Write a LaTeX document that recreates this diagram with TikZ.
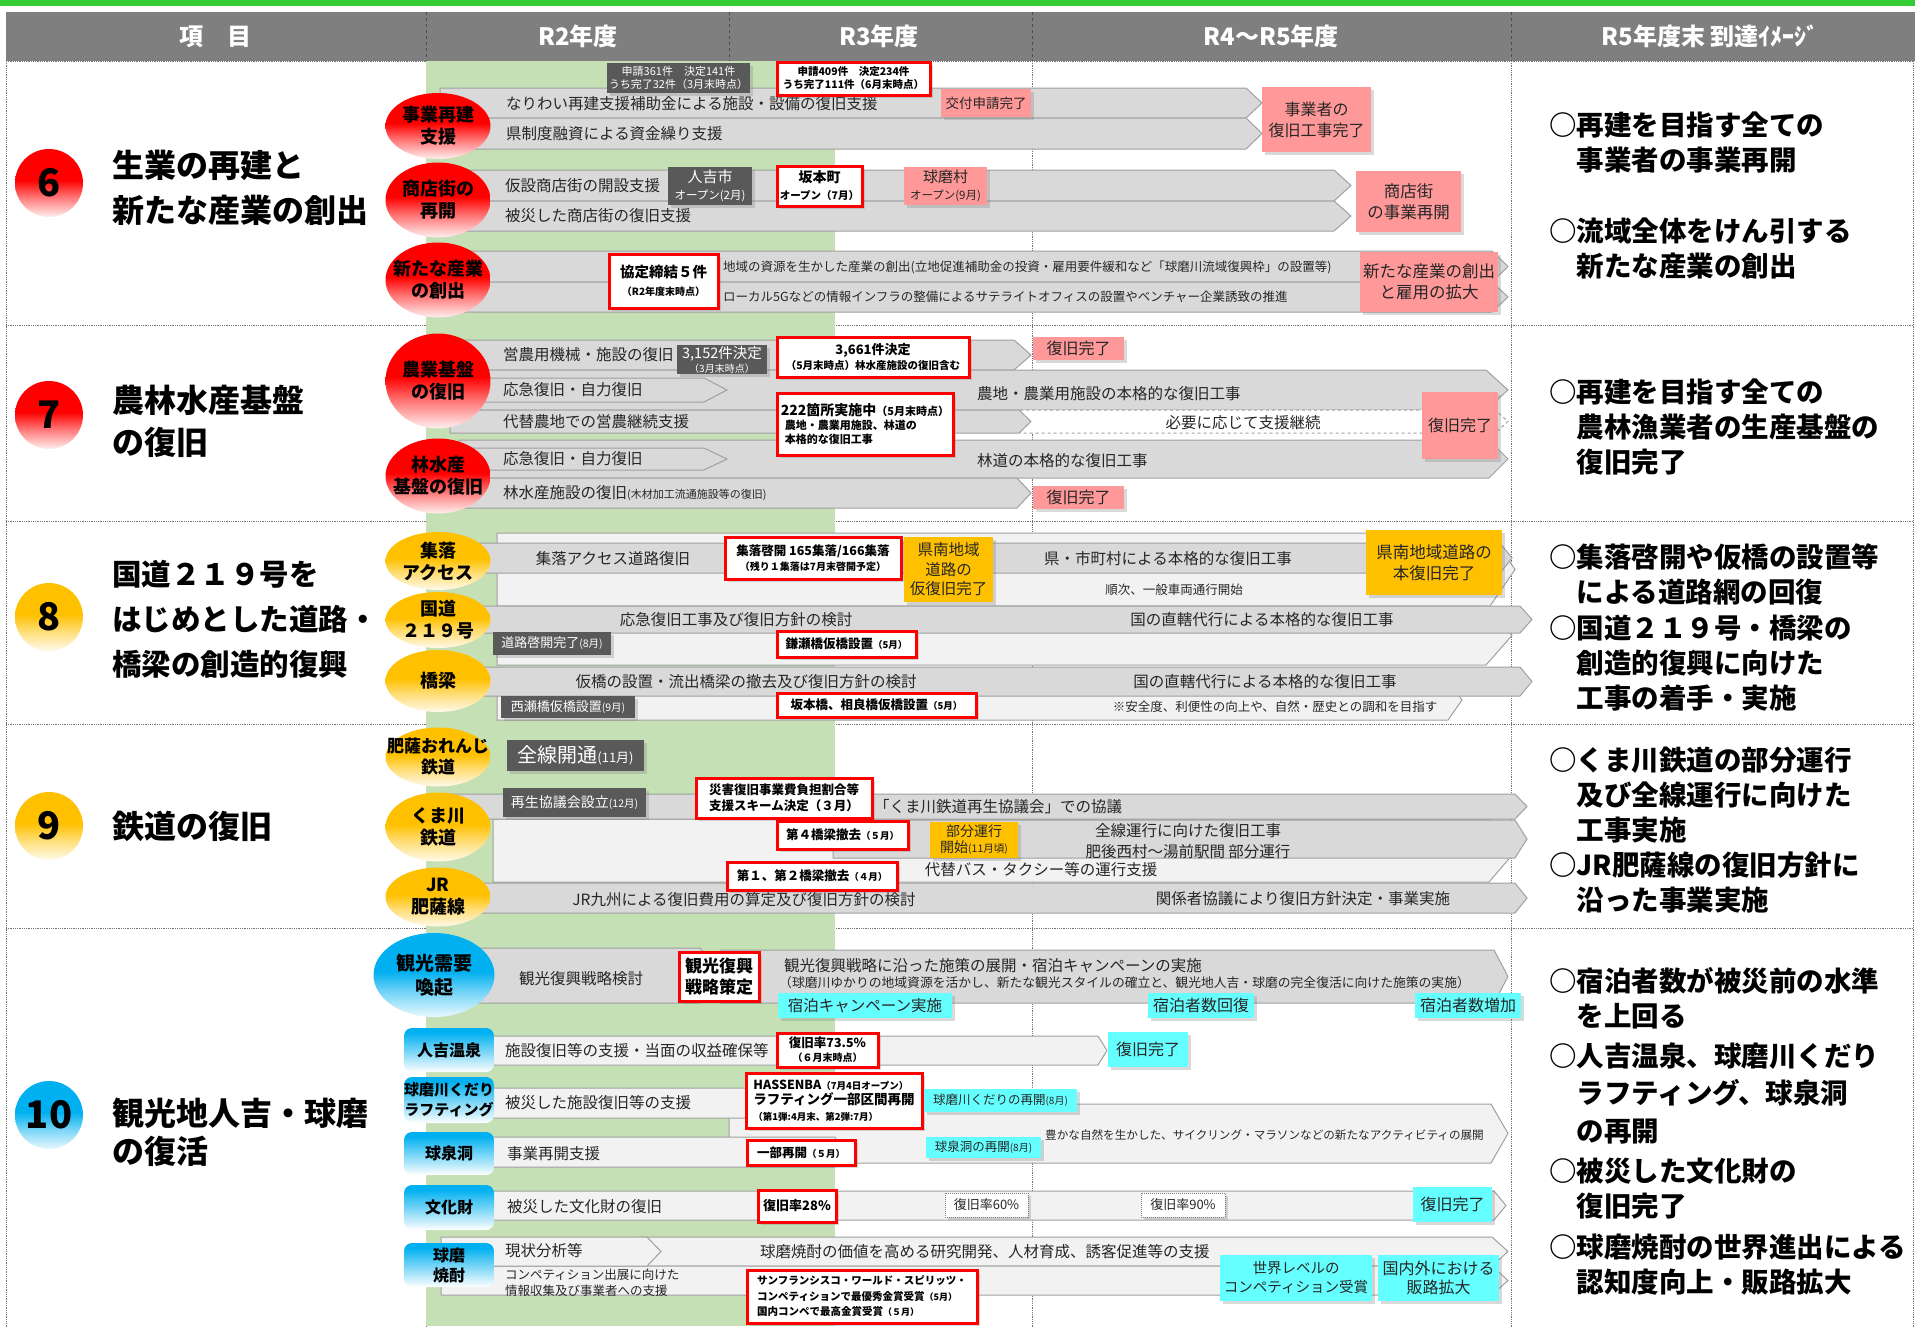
\documentclass[tikz,border=0pt]{standalone}
\usepackage{fontspec}
\setmainfont{Noto Sans CJK JP}
\usepackage{tikz}
\usetikzlibrary{positioning,shapes.geometric,shadows}

\definecolor{topgreen}{HTML}{33CC33}
\definecolor{headgray}{HTML}{7F7F7F}
\definecolor{colgreen}{HTML}{C5E0B4}
\definecolor{bargray}{HTML}{D9D9D9}
\definecolor{barlight}{HTML}{F2F2F2}
\definecolor{barline}{HTML}{A0A0A0}
\definecolor{boxdark}{HTML}{595959}
\definecolor{pinkfill}{HTML}{FF9999}
\definecolor{yelfill}{HTML}{FFC000}
\definecolor{cyanfill}{HTML}{66FFFF}
\definecolor{bluefill}{HTML}{00B0F0}
\definecolor{txtgray}{HTML}{262626}

\pgfdeclareverticalshading{redball}{100bp}{color(0bp)=(red!6!white); color(25bp)=(red!6!white); color(40bp)=(red!55!white); color(52bp)=(red); color(100bp)=(red)}
\pgfdeclareverticalshading{yelball}{100bp}{color(0bp)=(yelfill!8!white); color(25bp)=(yelfill!8!white); color(40bp)=(yelfill!55!white); color(52bp)=(yelfill); color(100bp)=(yelfill)}
\pgfdeclareverticalshading{blueball}{100bp}{color(0bp)=(bluefill!8!white); color(25bp)=(bluefill!8!white); color(40bp)=(bluefill!55!white); color(52bp)=(bluefill); color(100bp)=(bluefill)}
\pgfdeclareverticalshading{bluegrad}{100bp}{color(0bp)=(white); color(25bp)=(white); color(70bp)=(bluefill); color(100bp)=(bluefill)}

\newcommand{\fsz}[2]{\fontsize{#1}{#2}\selectfont}
% bar with arrow end: [style] x-start, y-top, x-body-end, y-bottom, x-tip
\newcommand{\chevbar}[6][graybar]{%
  \draw[#1] (#2,#3) -- (#4,#3) -- (#6,{(#3+#5)/2}) -- (#4,#5) -- (#2,#5) -- cycle;}

\tikzset{
  graybar/.style={fill=bargray, draw=barline, line width=1pt},
  lightbar/.style={fill=barlight, draw=barline, line width=1pt},
  dashbar/.style={fill=white, draw=barline, line width=1pt, dashed},
  gridline/.style={draw=black!55, line width=0.8pt, densely dotted},
  headsep/.style={draw=black!70, line width=0.8pt, dashed},
  headtxt/.style={text=white, inner sep=0pt, font=\bfseries\fsz{24}{28}},
  bartxt/.style={anchor=west, inner sep=0pt, text=txtgray, font=\fsz{15.5}{18}},
  midtxt/.style={inner sep=0pt, text=txtgray, font=\fsz{15.5}{18}},
  smalltxt/.style={inner sep=0pt, text=txtgray, font=\fsz{12.5}{15}},
  boxbase/.style={inner sep=1pt, align=center, drop shadow={shadow xshift=3pt, shadow yshift=-3pt, opacity=0.3}},
  darkbox/.style={boxbase, fill=boxdark, text=white},
  redbox/.style={boxbase, fill=white, draw=red, line width=3pt, font=\bfseries\fsz{12.5}{15}},
  pinkbox/.style={boxbase, fill=pinkfill, text=txtgray, font=\fsz{16}{20}},
  yelbox/.style={boxbase, fill=yelfill, text=txtgray, font=\fsz{16}{20}},
  cyanbox/.style={boxbase, fill=cyanfill, text=txtgray, font=\fsz{16}{19}},
  dotbox/.style={boxbase, fill=white, draw=gray, densely dotted, line width=1pt, text=txtgray, font=\fsz{13}{15}},
  ovalbox/.style={ellipse, inner sep=0pt, minimum width=105},
  redoval/.style={ovalbox, shade, shading=redball},
  yeloval/.style={ovalbox, shade, shading=yelball},
  blueoval/.style={ovalbox, shade, shading=blueball},
  ovaltxt/.style={inner sep=0pt, align=center, font=\bfseries\fsz{18}{22}},
  bluebox/.style={rounded corners=8pt, shade, shading=bluegrad, minimum width=90, inner sep=0pt, align=center, font=\bfseries\fsz{16}{20}},
  numball/.style={circle, minimum size=68, inner sep=0pt, shade, font=\bfseries\fsz{38}{40}},
  sectitle/.style={anchor=west, inner sep=0pt, align=left, font=\bfseries\fsz{32}{45}},
  goaltxt/.style={anchor=west, inner sep=0pt, align=left, font=\bfseries\fsz{27.5}{35}}
}

\begin{document}
\begin{tikzpicture}[x=1pt, y=-1pt]
\useasboundingbox (0,0) rectangle (1915,1328);

% header
\fill[topgreen] (0,0) rectangle (1915,6);
\fill[headgray] (6,12) rectangle (1915,61);
\foreach \cx in {426,729,1032,1511} \draw[headsep] (\cx,12) -- (\cx,61);
\node[headtxt] (h0) at (215,36.5) {項　目};
\node[headtxt] (h1) at (578,36.5) {R2年度};
\node[headtxt] (h2) at (879,36.5) {R3年度};
\node[headtxt] (h3) at (1271,36.5) {R4〜R5年度};
\node[headtxt] (h4) at (1710,36.5) {R5年度末 到達ｲﾒｰｼﾞ};

% grid and R2 column
\foreach \gy in {61,325,521,724,928} \draw[gridline] (6,\gy) -- (1913,\gy);
\foreach \gx in {6,426,1032,1511,1913} \draw[gridline] (\gx,61) -- (\gx,1328);
\fill[colgreen] (426,61) rectangle (835,1326);

% 6 生業の再建
\node[numball, shading=redball] (n6) at (49,183) {6};
\node[sectitle] (t6) at (112,187.5) {生業の再建と\\新たな産業の創出};
\chevbar{440}{88}{1246}{118}{1262}
\chevbar{440}{118}{1246}{149}{1262}
\chevbar{440}{170}{1334}{201}{1351}
\chevbar{440}{201}{1334}{231}{1351}
\chevbar{440}{251}{1492}{282}{1508}
\chevbar{440}{282}{1492}{312}{1508}
\node[bartxt] (r6a) at (506,104) {なりわい再建支援補助金による施設・設備の復旧支援};
\node[bartxt] (r6b) at (506,134) {県制度融資による資金繰り支援};
\node[bartxt] (r6c) at (505,186) {仮設商店街の開設支援};
\node[bartxt] (r6d) at (505,216) {被災した商店街の復旧支援};
\node[bartxt, font=\fsz{12.5}{15}] (r6e) at (723,267) {地域の資源を生かした産業の創出(立地促進補助金の投資・雇用要件緩和など「球磨川流域復興枠」の設置等)};
\node[bartxt, font=\fsz{12.5}{15}] (r6f) at (723,297) {ローカル5Gなどの情報インフラの整備によるサテライトオフィスの設置やベンチャー企業誘致の推進};
\node[darkbox, minimum width=143, minimum height=30, font=\fsz{11}{13}] (d6a) at (678.5,78) {申請361件　決定141件\\うち完了32件（3月末時点）};
\node[redbox, minimum width=153, minimum height=33, font=\bfseries\fsz{10.5}{13}] (k6a) at (853.5,78.5) {申請409件　決定234件\\うち完了111件（6月末時点）};
\node[pinkbox, minimum width=90, minimum height=28, font=\fsz{13.5}{16}] (p6a) at (986,103) {交付申請完了};
\node[pinkbox, minimum width=109, minimum height=65, font=\fsz{16}{21}] (p6b) at (1316.5,119.5) {事業者の\\復旧工事完了};
\node[darkbox, minimum width=84, minimum height=38, font=\fsz{15}{17}] (d6b) at (710,186) {人吉市\\{\fsz{11.5}{14}オープン(2月)}};
\node[redbox, minimum width=85, minimum height=40, font=\bfseries\fsz{14}{17}] (k6b) at (819.5,186) {坂本町\\{\fsz{10.5}{13}オープン（7月）}};
\node[pinkbox, minimum width=83, minimum height=38, font=\fsz{15}{17}] (p6c) at (945.5,186) {球磨村\\{\fsz{11.5}{14}オープン(9月)}};
\node[pinkbox, minimum width=105, minimum height=61, font=\fsz{16.5}{21}] (p6d) at (1408.5,201.5) {商店街\\の事業再開};
\node[redbox, minimum width=109, minimum height=54, font=\bfseries\fsz{14.5}{18}] (k6c) at (663.5,281) {協定締結５件\\{\fsz{10}{12}（R2年度末時点）}};
\node[pinkbox, minimum width=138, minimum height=60, font=\fsz{16.5}{21}] (p6e) at (1429,282) {新たな産業の創出\\と雇用の拡大};
\node[redoval, minimum height=66] (c6a) at (438,126) {};
\node[ovaltxt] (c6at) at (c6a) {事業再建\\支援};
\node[redoval, minimum height=75] (c6b) at (438,200) {};
\node[ovaltxt] (c6bt) at (c6b) {商店街の\\再開};
\node[redoval, minimum height=75] (c6c) at (438,280) {};
\node[ovaltxt] (c6ct) at (c6c) {新たな産業\\の創出};
\node[goaltxt] (g6a) at (1549,143) {○再建を目指す全ての\\　事業者の事業再開};
\node[goaltxt] (g6b) at (1549,248) {○流域全体をけん引する\\　新たな産業の創出};

% 7 農林水産基盤
\node[numball, shading=redball] (n7) at (49,415) {7};
\node[sectitle, font=\bfseries\fsz{32}{42}] (t7) at (112,421) {農林水産基盤\\の復旧};
\chevbar{440}{340}{1014}{370}{1031}
\chevbar{470}{370}{1486}{410}{1508}
\chevbar{470}{378}{704}{402}{727}
\chevbar[dashbar]{1020}{410}{1495}{433}{1508}
\chevbar{450}{410}{1019}{433}{1031}
\chevbar{459}{440}{1489}{478}{1508}
\chevbar{470}{448}{704}{470}{727}
\chevbar{459}{478}{1017}{508}{1031}
\node[bartxt] (r7a) at (503,355) {営農用機械・施設の復旧};
\node[bartxt] (r7b) at (503,390) {応急復旧・自力復旧};
\node[bartxt] (r7c) at (977,394) {農地・農業用施設の本格的な復旧工事};
\node[bartxt] (r7d) at (503,422) {代替農地での営農継続支援};
\node[midtxt] (r7e) at (1243,423) {必要に応じて支援継続};
\node[bartxt] (r7f) at (503,459) {応急復旧・自力復旧};
\node[bartxt] (r7g) at (977,461) {林道の本格的な復旧工事};
\node[bartxt] (r7h) at (503,493) {林水産施設の復旧{\fsz{11}{13}(木材加工流通施設等の復旧)}};
\node[darkbox, minimum width=90, minimum height=27, font=\fsz{14.5}{14}] (d7a) at (722,359.5) {3,152件決定\\{\fsz{10}{11}（3月末時点）}};
\node[redbox, minimum width=192, minimum height=40, font=\bfseries\fsz{13}{15}] (k7a) at (873,357) {3,661件決定\\{\fsz{10.5}{13}（5月末時点）林水産施設の復旧含む}};
\node[redbox, minimum width=176, minimum height=62, align=left, font=\bfseries\fsz{11}{14}] (k7b) at (865,424) {{\fsz{14}{16}222箇所実施中}（5月末時点）\\\hspace*{4pt}農地・農業用施設、林道の\\\hspace*{4pt}本格的な復旧工事};
\node[pinkbox, minimum width=91, minimum height=23] (p7a) at (1078.5,348.5) {復旧完了};
\node[pinkbox, minimum width=76, minimum height=67] (p7b) at (1460,425.5) {復旧完了};
\node[pinkbox, minimum width=91, minimum height=23] (p7c) at (1078.5,497.5) {復旧完了};
\node[redoval, minimum height=95] (c7a) at (438,381) {};
\node[ovaltxt] (c7at) at (c7a) {農業基盤\\の復旧};
\node[redoval, minimum height=75] (c7b) at (438,476) {};
\node[ovaltxt] (c7bt) at (c7b) {林水産\\基盤の復旧};
\node[goaltxt] (g7) at (1549,427) {○再建を目指す全ての\\　農林漁業者の生産基盤の\\　復旧完了};

% 8 道路・橋梁
\node[numball, shading=yelball] (n8) at (49,617) {8};
\node[sectitle, font=\bfseries\fsz{29.5}{45}] (t8) at (112,619) {国道２１９号を\\はじめとした道路・\\橋梁の創造的復興};
\chevbar[lightbar]{497}{533}{1490}{606}{1515}
\chevbar[lightbar]{497}{606}{1486}{665}{1512}
\chevbar[lightbar]{497}{680}{1448}{720}{1462}
\chevbar{440}{543}{1500}{573}{1512}
\chevbar{440}{606}{1520}{633}{1532}
\chevbar{440}{667}{1520}{696}{1532}
\node[midtxt] (r8a) at (613,559) {集落アクセス道路復旧};
\node[midtxt] (r8b) at (1168,559) {県・市町村による本格的な復旧工事};
\node[smalltxt] (r8c) at (1174,590) {順次、一般車両通行開始};
\node[midtxt] (r8d) at (736,620) {応急復旧工事及び復旧方針の検討};
\node[midtxt] (r8e) at (1262,620) {国の直轄代行による本格的な復旧工事};
\node[midtxt] (r8f) at (746,682) {仮橋の設置・流出橋梁の撤去及び復旧方針の検討};
\node[midtxt] (r8g) at (1265,682) {国の直轄代行による本格的な復旧工事};
\node[smalltxt] (r8h) at (1275,707) {※安全度、利便性の向上や、自然・歴史との調和を目指す};
\node[redbox, minimum width=176, minimum height=42] (k8a) at (813,558) {集落啓開 165集落/166集落\\{\fsz{10}{12}（残り１集落は7月末啓開予定）}};
\node[yelbox, minimum width=89, minimum height=65, font=\fsz{15.5}{19.5}] (y8a) at (948.5,569.5) {県南地域\\道路の\\仮復旧完了};
\node[yelbox, minimum width=136, minimum height=65, font=\fsz{16.5}{21}] (y8b) at (1434,562.5) {県南地域道路の\\本復旧完了};
\node[darkbox, minimum width=118, minimum height=23, font=\fsz{13}{15}] (d8a) at (552,643.5) {道路啓開完了{\fsz{10.5}{12}(8月)}};
\node[redbox, minimum width=139, minimum height=26] (k8b) at (846.5,644) {鎌瀬橋仮橋設置{\fsz{9.5}{12}（5月）}};
\node[darkbox, minimum width=134, minimum height=22, font=\fsz{13}{15}] (d8b) at (568,707) {西瀬橋仮橋設置{\fsz{10.5}{12}(9月)}};
\node[redbox, minimum width=199, minimum height=24] (k8c) at (876.5,705) {坂本橋、相良橋仮橋設置{\fsz{9.5}{12}（5月）}};
\node[yeloval, minimum height=58] (c8a) at (438,561) {};
\node[ovaltxt] (c8at) at (c8a) {集落\\アクセス};
\node[yeloval, minimum height=56] (c8b) at (438,620) {};
\node[ovaltxt] (c8bt) at (c8b) {国道\\２１９号};
\node[yeloval, minimum height=62] (c8c) at (438,681) {};
\node[ovaltxt] (c8ct) at (c8c) {橋梁};
\node[goaltxt] (g8a) at (1549,574.5) {○集落啓開や仮橋の設置等\\　による道路網の回復};
\node[goaltxt] (g8b) at (1549,663) {○国道２１９号・橋梁の\\　創造的復興に向けた\\　工事の着手・実施};

% 9 鉄道
\node[numball, shading=yelball] (n9) at (49,826) {9};
\node[sectitle] (t9) at (112,826) {鉄道の復旧};
\chevbar[lightbar]{493}{819}{1489}{882}{1516}
\chevbar{427}{794}{1515}{819}{1527}
\chevbar{833}{820}{1515}{858}{1527}
\chevbar{440}{883}{1515}{913}{1527}
\node[bartxt] (r9a) at (874,807) {「くま川鉄道再生協議会」での協議};
\node[midtxt, align=center, font=\fsz{15.5}{21}] (r9b) at (1188,841) {全線運行に向けた復旧工事\\肥後西村〜湯前駅間 部分運行};
\node[midtxt] (r9c) at (1041,870) {代替バス・タクシー等の運行支援};
\node[midtxt] (r9d) at (744,900) {JR九州による復旧費用の算定及び復旧方針の検討};
\node[midtxt] (r9e) at (1303,899) {関係者協議により復旧方針決定・事業実施};
\node[darkbox, minimum width=137, minimum height=31, font=\fsz{20}{22}] (d9a) at (575.5,755.5) {全線開通{\fsz{13}{15}(11月)}};
\node[darkbox, minimum width=143, minimum height=29, font=\fsz{14}{16}] (d9b) at (574.5,802.5) {再生協議会設立{\fsz{10.5}{12}(12月)}};
\node[redbox, minimum width=176, minimum height=40, font=\bfseries\fsz{12.5}{16}] (k9a) at (784,798) {災害復旧事業費負担割合等\\支援スキーム決定（３月）};
\node[yelbox, minimum width=88, minimum height=36, font=\fsz{14}{16}] (y9a) at (974,840) {部分運行\\開始{\fsz{10.5}{12}(11月頃)}};
\node[redbox, minimum width=131, minimum height=28] (k9b) at (842.5,835) {第４橋梁撤去{\fsz{9.5}{12}（５月）}};
\node[redbox, minimum width=170, minimum height=28] (k9c) at (812,876) {第１、第２橋梁撤去{\fsz{9.5}{12}（４月）}};
\node[yeloval, minimum height=59] (c9a) at (438,757) {};
\node[ovaltxt, font=\bfseries\fsz{17}{21}] (c9at) at (c9a) {肥薩おれんじ\\鉄道};
\node[yeloval, minimum height=69] (c9b) at (438,827) {};
\node[ovaltxt] (c9bt) at (c9b) {くま川\\鉄道};
\node[yeloval, minimum height=59] (c9c) at (438,897) {};
\node[ovaltxt] (c9ct) at (c9c) {JR\\肥薩線};
\node[goaltxt] (g9a) at (1549,795) {○くま川鉄道の部分運行\\　及び全線運行に向けた\\　工事実施};
\node[goaltxt] (g9b) at (1549,882.5) {○JR肥薩線の復旧方針に\\　沿った事業実施};

% 10 観光地
\node[numball, shading=blueball] (n10) at (49,1115) {10};
\node[sectitle, font=\bfseries\fsz{32}{38}] (t10) at (112,1132) {観光地人吉・球磨\\の復活};
\chevbar{478}{948}{700}{1003}{725}
\chevbar{721}{950}{1494}{1003}{1508}
\chevbar[lightbar]{490}{1036}{1098}{1065}{1107}
\chevbar[lightbar]{729}{1104}{1491}{1163}{1508}
\chevbar[lightbar]{490}{1088}{770}{1118}{790}
\chevbar[lightbar]{490}{1137}{835}{1167}{842}
\chevbar[lightbar]{490}{1191}{1494}{1220}{1506}
\chevbar[lightbar]{640}{1237}{1492}{1266}{1508}
\chevbar[lightbar]{441}{1266}{1492}{1295}{1508}
\chevbar[lightbar]{441}{1237}{647}{1266}{661}
\node[midtxt] (r10a) at (581,979) {観光復興戦略検討};
\node[bartxt] (r10b) at (784,966) {観光復興戦略に沿った施策の展開・宿泊キャンペーンの実施};
\node[bartxt, font=\fsz{12.8}{14}] (r10c) at (779,983) {（球磨川ゆかりの地域資源を活かし、新たな観光スタイルの確立と、観光地人吉・球磨の完全復活に向けた施策の実施）};
\node[bartxt] (r10d) at (505,1051) {施設復旧等の支援・当面の収益確保等};
\node[bartxt] (r10e) at (505,1103) {被災した施設復旧等の支援};
\node[bartxt, font=\fsz{11.6}{14}] (r10f) at (1045,1135) {豊かな自然を生かした、サイクリング・マラソンなどの新たなアクティビティの展開};
\node[bartxt] (r10g) at (507,1154) {事業再開支援};
\node[bartxt] (r10h) at (507,1207) {被災した文化財の復旧};
\node[bartxt] (r10i) at (505,1251) {現状分析等};
\node[bartxt] (r10j) at (760,1252) {球磨焼酎の価値を高める研究開発、人材育成、誘客促進等の支援};
\node[bartxt, align=left, font=\fsz{12.5}{16}] (r10k) at (505,1283) {コンペティション出展に向けた\\情報収集及び事業者への支援};
\node[redbox, minimum width=80, minimum height=49, font=\bfseries\fsz{17}{21}] (k10a) at (719,976.5) {観光復興\\戦略策定};
\node[cyanbox, minimum width=174, minimum height=25, font=\fsz{15.5}{18}] (y10a) at (865,1005.5) {宿泊キャンペーン実施};
\node[cyanbox, minimum width=106, minimum height=25] (y10b) at (1201,1005.5) {宿泊者数回復};
\node[cyanbox, minimum width=106, minimum height=25] (y10c) at (1468,1005.5) {宿泊者数増加};
\node[redbox, minimum width=101, minimum height=34, font=\bfseries\fsz{12.5}{14}] (k10b) at (827.5,1050) {復旧率73.5\%\\{\fsz{10}{12}（６月末時点）}};
\node[cyanbox, minimum width=80, minimum height=35] (y10d) at (1148,1049.5) {復旧完了};
\node[redbox, minimum width=176, minimum height=55, align=left, font=\bfseries\fsz{12.5}{15.5}] (k10c) at (834,1100.5) {HASSENBA{\fsz{9.5}{12}（7月4日オープン）}\\{\fsz{13.5}{15.5}ラフティング一部区間再開}\\{\fsz{9.5}{12}（第1弾:4月末、第2弾:7月）}};
\node[cyanbox, minimum width=153, minimum height=23, font=\fsz{12.5}{14}] (y10e) at (1000.5,1100.5) {球磨川くだりの再開{\fsz{10}{12}(8月)}};
\node[redbox, minimum width=108, minimum height=25] (k10d) at (801,1152.5) {一部再開{\fsz{9.5}{12}（５月）}};
\node[cyanbox, minimum width=115, minimum height=21, font=\fsz{12.5}{14}] (y10f) at (983.5,1147.5) {球泉洞の再開{\fsz{10}{12}(8月)}};
\node[redbox, minimum width=78, minimum height=32, font=\bfseries\fsz{13}{15}] (k10e) at (797,1206) {復旧率28\%};
\node[dotbox, minimum width=83, minimum height=24] (o10a) at (986.5,1205) {復旧率60\%};
\node[dotbox, minimum width=84, minimum height=24] (o10b) at (1183,1205) {復旧率90\%};
\node[cyanbox, minimum width=79, minimum height=35] (y10g) at (1452.5,1204.5) {復旧完了};
\node[redbox, minimum width=230, minimum height=53, align=left, font=\bfseries\fsz{10.5}{15.5}] (k10f) at (862,1296.5) {サンフランシスコ・ワールド・スピリッツ・\\コンペティションで最優秀金賞受賞{\fsz{9}{12}（5月）}\\国内コンペで最高金賞受賞{\fsz{9}{12}（５月）}};
\node[cyanbox, minimum width=152, minimum height=46, font=\fsz{14.5}{19}] (y10h) at (1296,1278) {世界レベルの\\コンペティション受賞};
\node[cyanbox, minimum width=121, minimum height=46, font=\fsz{16}{19}] (y10i) at (1438.5,1278) {国内外における\\販路拡大};
\node[blueoval, minimum width=121, minimum height=84] (c10a) at (434,975) {};
\node[ovaltxt, font=\bfseries\fsz{19}{24}] (c10at) at (c10a) {観光需要\\喚起};
\node[bluebox, minimum height=44] (c10b) at (449,1050) {人吉温泉};
\node[bluebox, minimum height=46, font=\bfseries\fsz{15}{20}] (c10c) at (449,1100) {球磨川くだり\\ラフティング};
\node[bluebox, minimum height=43] (c10d) at (449,1153.5) {球泉洞};
\node[bluebox, minimum height=45] (c10e) at (449,1207.5) {文化財};
\node[bluebox, minimum height=44] (c10f) at (449,1265) {球磨\\焼酎};
\node[goaltxt] (g10a) at (1549,998.5) {○宿泊者数が被災前の水準\\　を上回る};
\node[goaltxt, font=\bfseries\fsz{27.5}{37.5}] (g10b) at (1549,1093) {○人吉温泉、球磨川くだり\\　ラフティング、球泉洞\\　の再開};
\node[goaltxt] (g10c) at (1549,1188.5) {○被災した文化財の\\　復旧完了};
\node[goaltxt] (g10d) at (1549,1264.5) {○球磨焼酎の世界進出による\\　認知度向上・販路拡大};
\end{tikzpicture}
\end{document}
